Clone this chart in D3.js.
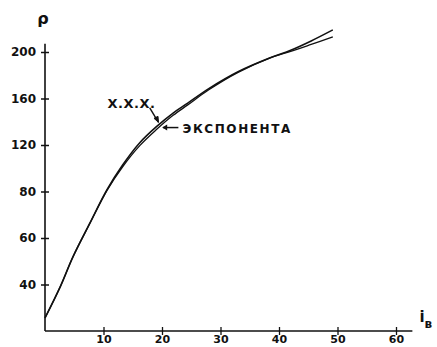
<!DOCTYPE html>
<html>
<head>
<meta charset="utf-8">
<script src="https://cdn.jsdelivr.net/npm/d3@7"></script>
<style>
  html, body { margin: 0; padding: 0; background: #fff; }
  svg { display: block; }
  text { font-family: "DejaVu Sans", sans-serif; font-weight: bold; fill: #111; }
</style>
</head>
<body>
<svg id="chart" width="437" height="347"></svg>
<script>
// ---- data ----
const yTickLabels = [40, 60, 80, 120, 160, 200];
const xTickLabels = [10, 20, 30, 40, 50, 60];
const xxxX = [0, 2.6, 4.8, 7.7, 10.6, 13.3, 16.2, 19.1, 21.9, 24.4, 28, 33, 38.5, 42, 45.5, 49.2];
const xxxY = [25.6, 39, 52, 66.5, 81.5, 103, 122, 136, 147.5, 156, 168.5, 183, 195, 201.5, 209.5, 219];
const expX = [0, 2.6, 4.8, 7.7, 10.6, 13.3, 16.2, 19.1, 21.9, 24.4, 28, 33, 38.5, 42, 45.5, 49.2];
const expY = [25.6, 39, 52, 66.5, 81, 101.5, 119.5, 133.5, 145.5, 154.5, 167.5, 182.5, 195, 200.5, 206.5, 213];
const seriesNames = ["Х.Х.Х.", "ЭКСПОНЕНТА"];
const axisLabelY = "ρ";
const axisLabelX = "i";
const axisLabelXSub = "в";

// ---- scales ----
const svg = d3.select("#chart");
const x = d3.scaleLinear().domain([0, 60]).range([45, 396]);
const yDomain = [20].concat(yTickLabels).concat([240]);
const y = d3.scaleLinear().domain(yDomain).range(yDomain.map((d, i) => 331 - i * 46.5));

const ink = "#111";

// ---- axes ----
const yAxis = d3.axisLeft(y).tickValues(yTickLabels).tickSize(4).tickPadding(6).tickFormat(d => d);
const gy = svg.append("g").attr("transform", `translate(${x(0)},0)`).call(yAxis);
gy.select(".domain").remove();
gy.selectAll(".tick line").attr("stroke", ink).attr("stroke-width", 1.5);
gy.selectAll(".tick").append("line").attr("x2", 4).attr("stroke", ink).attr("stroke-width", 1.5);
gy.selectAll(".tick text").style("font-size", "12px").attr("fill", ink).attr("x", -9);
gy.append("line").attr("y1", y(20)).attr("y2", y(207)).attr("stroke", ink).attr("stroke-width", 1.6);

const xAxis = d3.axisBottom(x).tickValues(xTickLabels).tickSize(4).tickPadding(6).tickFormat(d => d);
const gx = svg.append("g").attr("transform", `translate(0,${y(20)})`).call(xAxis);
gx.select(".domain").remove();
gx.selectAll(".tick line").attr("stroke", ink).attr("stroke-width", 1.3);
gx.selectAll(".tick").append("line").attr("y2", -4).attr("stroke", ink).attr("stroke-width", 1.3);
gx.selectAll(".tick text").style("font-size", "11px").attr("fill", ink).attr("y", 4);
gx.append("line").attr("x1", x(0)).attr("x2", x(62.8)).attr("stroke", ink).attr("stroke-width", 1.5);

// axis labels
svg.append("text").attr("x", x(0) - 2).attr("y", 24).attr("text-anchor", "middle")
  .style("font-size", "16px").text(axisLabelY);
const xl = svg.append("text").attr("x", x(64)).attr("y", 322).style("font-size", "15px");
xl.append("tspan").text(axisLabelX);
xl.append("tspan").attr("dy", 6).style("font-size", "12px").text(axisLabelXSub);

// ---- curves ----
const line = d3.line().x(d => x(d[0])).y(d => y(d[1])).curve(d3.curveCatmullRom.alpha(0.5));
const xxxData = xxxX.map((v, i) => [v, xxxY[i]]);
const expData = expX.map((v, i) => [v, expY[i]]);
svg.append("path").datum(xxxData).attr("d", line).attr("fill", "none")
  .attr("stroke", ink).attr("stroke-width", 1.6);
svg.append("path").datum(expData).attr("d", line).attr("fill", "none")
  .attr("stroke", ink).attr("stroke-width", 1.3);

// ---- annotations ----
svg.append("text").attr("x", x(10.7)).attr("y", y(152)).style("font-size", "13px")
  .attr("letter-spacing", "0.5").text(seriesNames[0]);
// arrow from x.x.x. to curve
const ax1 = x(17.9), ay1 = y(152), ax2 = x(19.4), ay2 = y(139.5);
svg.append("line").attr("x1", ax1).attr("y1", ay1).attr("x2", ax2).attr("y2", ay2)
  .attr("stroke", ink).attr("stroke-width", 1.4);
svg.append("path").attr("d", `M${ax2},${ay2} l-4.5,-4 l4,-2 z`).attr("fill", ink).attr("stroke", ink);

svg.append("text").attr("x", x(23.5)).attr("y", y(135) + 5).style("font-size", "12px")
  .attr("letter-spacing", "1.6").text(seriesNames[1]);
const bx1 = x(22.8), by = y(135), bx2 = x(20.2);
svg.append("line").attr("x1", bx1).attr("y1", by).attr("x2", bx2).attr("y2", by)
  .attr("stroke", ink).attr("stroke-width", 1.5);
svg.append("path").attr("d", `M${bx2 - 1},${by} l5,-3 l0,6 z`).attr("fill", ink);
</script>
</body>
</html>
